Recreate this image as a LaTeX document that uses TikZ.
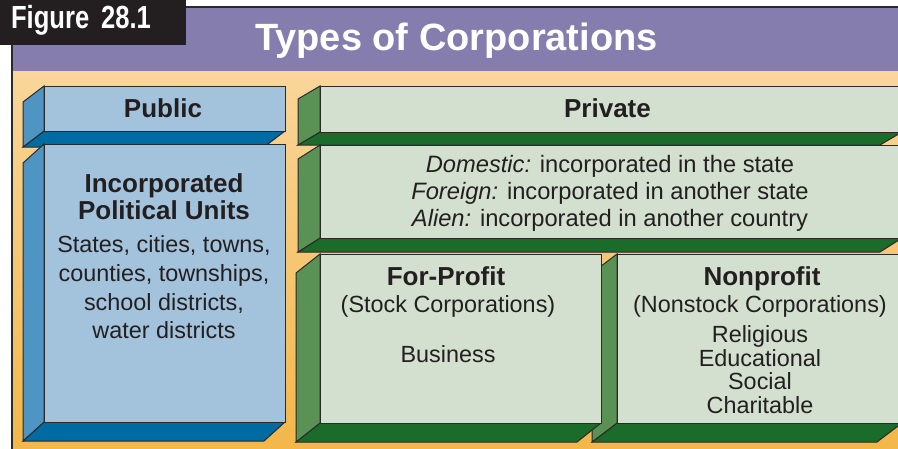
\documentclass[tikz,border=0pt]{standalone}
\usepackage{fontspec}
\setmainfont{Liberation Sans}
\newfontfamily\condfont[FakeStretch=0.80]{Liberation Sans}
\definecolor{framepurple}{HTML}{847DAE}
\definecolor{orangetop}{HTML}{F9D69B}
\definecolor{orangebot}{HTML}{F3B647}
\definecolor{pubfront}{HTML}{A3C3DC}
\definecolor{pubside}{HTML}{4F95C3}
\definecolor{pubbottom}{HTML}{006AA3}
\definecolor{prifront}{HTML}{D3E0CF}
\definecolor{priside}{HTML}{5A9155}
\definecolor{pribottom}{HTML}{1B6B2B}
\definecolor{inkdark}{HTML}{231F20}
\definecolor{edgegray}{HTML}{2A2A2A}
\tikzset{
  edge/.style={draw=edgegray, line width=1pt, line join=miter},
  headtxt/.style={font=\fontsize{26}{26}\selectfont\bfseries, text=inkdark, inner sep=0pt, anchor=base},
  bodytxt/.style={font=\fontsize{23.4}{27}\selectfont, text=inkdark, inner sep=0pt, anchor=base},
}
% #1 x1, #2 y1, #3 x2, #4 y2, #5 dx, #6 dy, #7 front, #8 side, #9 bottom
\newcommand{\corpbox}[9]{%
  \filldraw[edge, fill=#9] (#1,#4) -- (#3,#4) -- ++(#5,#6) -- ++({#1-#3},0) -- cycle;
  \filldraw[edge, fill=#8] (#1,#2) -- (#1,#4) -- ++(#5,#6) -- ++(0,{#2-#4}) -- cycle;
  \filldraw[edge, fill=#7] (#1,#2) rectangle (#3,#4);
}
\begin{document}
\begin{tikzpicture}[x=1pt, y=-1pt]
\useasboundingbox (0,0) rectangle (898,448);
% frame
\fill[white] (0,0) rectangle (898,448);
\shade[top color=orangetop, bottom color=orangebot] (12,71) rectangle (906,460);
\fill[framepurple] (12,7) rectangle (906,71);
\draw[edgegray, line width=1.2pt] (12,460) -- (12,7) -- (906,7);
% figure label
\fill[inkdark] (0,0) rectangle (186,45);
\node[font=\condfont\fontsize{32}{32}\selectfont\bfseries, text=white, inner sep=0pt, anchor=base] (figlabel) at (81,28.5) {Figure\hspace{0.15em} 28.1};
% title
\node[font=\fontsize{38}{38}\selectfont\bfseries, text=white, inner sep=0pt, anchor=base] (title) at (456.5,50) {Types of Corporations};
% public column
\corpbox{44}{86}{285}{131}{-21}{16}{pubfront}{pubside}{pubbottom}
\corpbox{44}{144}{285}{422}{-21}{19}{pubfront}{pubside}{pubbottom}
% private column
\corpbox{320}{86}{902}{132}{-22}{13}{prifront}{priside}{pribottom}
\corpbox{320}{145}{902}{238}{-22}{14}{prifront}{priside}{pribottom}
\corpbox{617}{254}{902}{423}{-25}{19}{prifront}{priside}{pribottom}
\corpbox{320}{254}{601}{423}{-24}{19}{prifront}{priside}{pribottom}
% texts
\node[headtxt] (public) at (163,117) {Public};
\node[headtxt] (private) at (607.5,117) {Private};
\node[headtxt] (incA) at (164,192) {Incorporated};
\node[headtxt] (incB) at (164,219) {Political Units};
\node[bodytxt] (polA) at (164,252) {States, cities, towns,};
\node[bodytxt] (polB) at (164,281) {counties, townships,};
\node[bodytxt] (polC) at (164,310) {school districts,};
\node[bodytxt] (polD) at (164,338) {water districts};
\node[bodytxt, font=\fontsize{23.7}{27}\selectfont] (dom) at (610,172) {{\itshape Domestic:} incorporated in the state};
\node[bodytxt, font=\fontsize{23.7}{27}\selectfont] (for) at (610,199) {{\itshape Foreign:} incorporated in another state};
\node[bodytxt, font=\fontsize{23.7}{27}\selectfont] (ali) at (610,226) {{\itshape Alien:} incorporated in another country};
\node[headtxt] (forprofit) at (446,285) {For-Profit};
\node[bodytxt] (stock) at (448,312) {(Stock Corporations)};
\node[bodytxt] (business) at (448,362) {Business};
\node[headtxt] (nonprofit) at (762,285) {Nonprofit};
\node[bodytxt] (nonstock) at (760,312) {(Nonstock Corporations)};
\node[bodytxt] (relig) at (760,342) {Religious};
\node[bodytxt] (educ) at (760,366) {Educational};
\node[bodytxt] (social) at (760,389) {Social};
\node[bodytxt] (charit) at (760,413) {Charitable};
\end{tikzpicture}
\end{document}
